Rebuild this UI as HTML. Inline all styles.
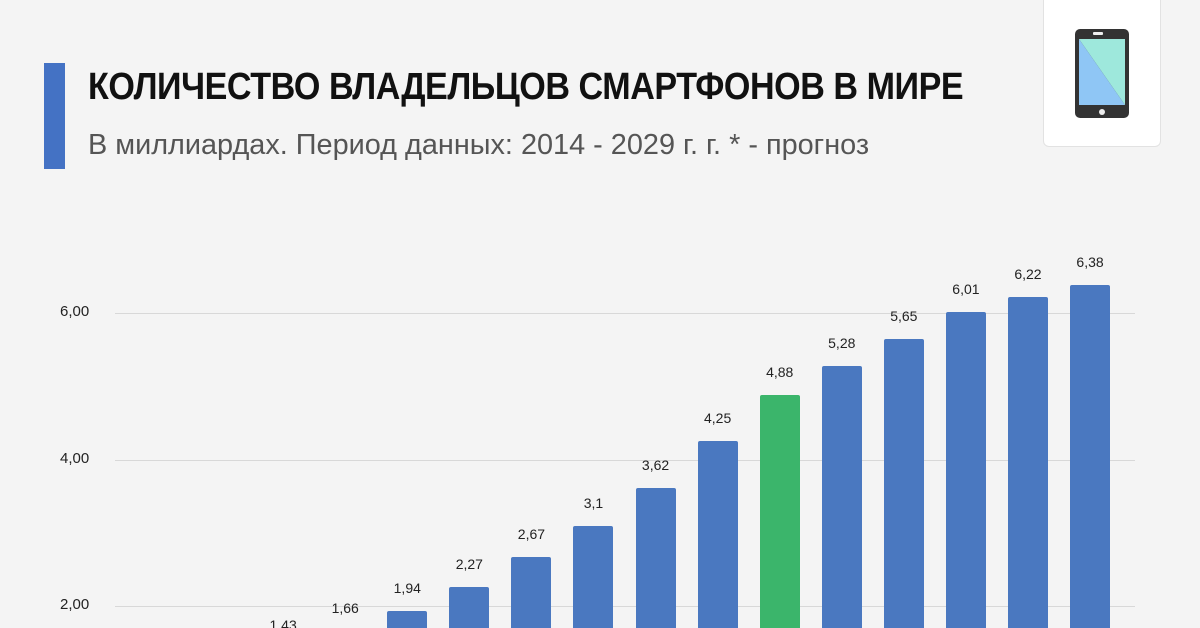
<!DOCTYPE html><html style="overflow:hidden;height:628px"><head><meta charset="utf-8"><style>
body{margin:0;width:1200px;height:628px;overflow:hidden;background:#f4f4f4;font-family:"Liberation Sans",sans-serif;position:relative}
.bar{position:absolute;width:40px;background:#4a78c0;border-radius:2px 2px 0 0}
.lb{position:absolute;width:60px;text-align:center;font-size:14px;color:#222}
.g{position:absolute;left:115px;width:1020px;height:1px;background:#d8d8d8}
.yl{position:absolute;left:60px;font-size:15px;color:#222}
</style></head><body>
<div style="position:absolute;left:44px;top:63px;width:21px;height:106px;background:#4472c4"></div>
<div style="position:absolute;left:88px;top:66px;font-size:38px;font-weight:bold;color:#111;transform:scaleX(0.897);transform-origin:left top;white-space:nowrap;letter-spacing:-0.5px">КОЛИЧЕСТВО ВЛАДЕЛЬЦОВ СМАРТФОНОВ В МИРЕ</div>
<div style="position:absolute;left:88px;top:129px;font-size:29px;color:#555;transform:scaleX(0.995);transform-origin:left top;white-space:nowrap">В миллиардах. Период данных: 2014 - 2029 г. г. * - прогноз</div>
<div style="position:absolute;left:1043px;top:-6px;width:116px;height:151px;background:#fff;border:1px solid #e2e2e2;border-radius:6px"></div>
<svg style="position:absolute;left:1073px;top:28px" width="58" height="92"><rect x="2" y="1" width="54" height="89" rx="5" fill="#333"/><polygon points="6,11 52,11 52,77" fill="#9ee8dc"/><polygon points="6,11 52,77 6,77" fill="#8fc6f5"/><rect x="20" y="4" width="10" height="3" rx="1" fill="#eee"/><circle cx="29" cy="84" r="3" fill="#eee"/></svg>
<div class="g" style="top:313px"></div><div class="g" style="top:460px"></div><div class="g" style="top:606px"></div>
<div class="yl" style="top:303px">6,00</div><div class="yl" style="top:450px">4,00</div><div class="yl" style="top:596px">2,00</div>
<div id="c"></div>
<script>
var v=[1.06,1.26,1.43,1.66,1.94,2.27,2.67,3.1,3.62,4.25,4.88,5.28,5.65,6.01,6.22,6.38];
var lbl=["1,06","1,26","1,43","1,66","1,94","2,27","2,67","3,1","3,62","4,25","4,88","5,28","5,65","6,01","6,22","6,38"];
var h="";
for(var i=0;i<16;i++){var cx=159+i*62.07;var ty=753-v[i]*73.3;
if(ty<628)h+='<div class="bar" style="left:'+(cx-20)+'px;top:'+ty+'px;height:'+(628-ty)+'px;'+(i==10?'background:#3bb56b':'')+'"></div>';
if(ty-31<628)h+='<div class="lb" style="left:'+(cx-30)+'px;top:'+(ty-31)+'px">'+lbl[i]+'</div>';}
document.getElementById('c').innerHTML=h;
</script>
</body></html>
